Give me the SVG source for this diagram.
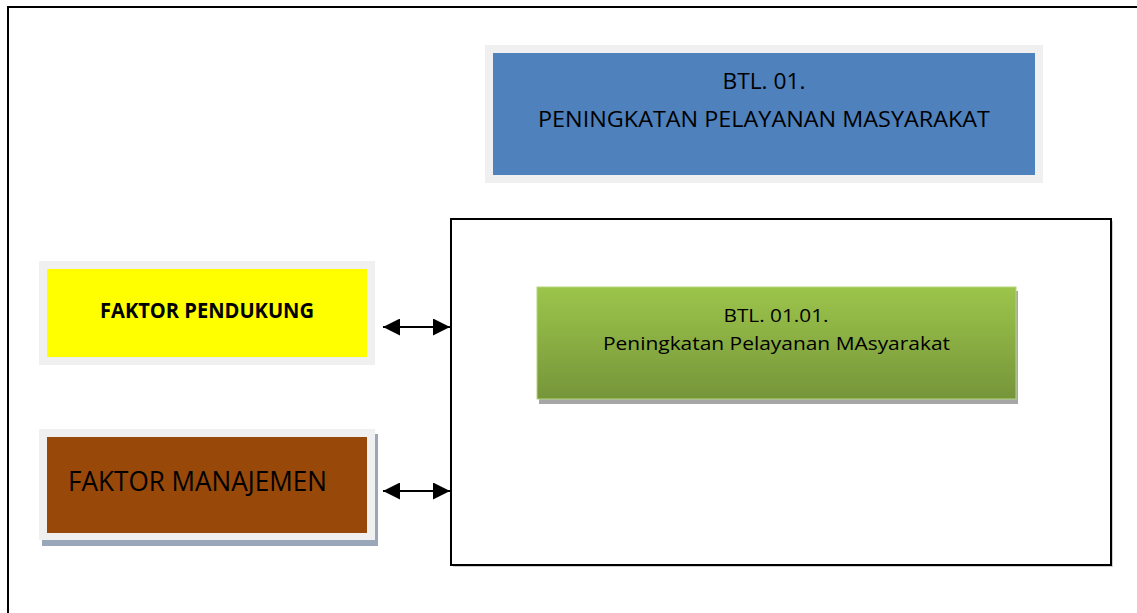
<svg xmlns="http://www.w3.org/2000/svg" width="1137" height="613" viewBox="0 0 1137 613">
  <defs>
    <linearGradient id="gGreen" x1="0" y1="0" x2="0" y2="1">
      <stop offset="0" stop-color="#9CC54B"/>
      <stop offset="1" stop-color="#76953A"/>
    </linearGradient>
    <marker id="ah" markerUnits="userSpaceOnUse" markerWidth="17" markerHeight="17" refX="17" refY="8.5" orient="auto-start-reverse">
      <path d="M0,0 L17,8.5 L0,17 z" fill="#000"/>
    </marker>
  </defs>
  <style>
    .frame { fill: none; stroke: #000; stroke-width: 2; }
    .halo { fill: #F0F0F0; }
    .t { font-family: "Open Sans", "Liberation Sans", sans-serif; fill: #000; text-anchor: middle; }
    .conn { stroke: #000; stroke-width: 2; fill: none; }
  </style>
  <rect width="1137" height="613" fill="#fff"/>
  <rect class="frame" x="8" y="7" width="1140" height="620"/>

  <g id="btl01">
    <rect class="halo" x="485" y="45" width="558" height="138"/>
    <rect x="493" y="53" width="542" height="122" fill="#4F81BD"/>
    <text class="t" x="764" y="89" font-size="22.5" textLength="83" lengthAdjust="spacingAndGlyphs">BTL. 01.</text>
    <text class="t" x="764" y="127" font-size="22.5" textLength="452" lengthAdjust="spacingAndGlyphs">PENINGKATAN PELAYANAN MASYARAKAT</text>
  </g>

  <g id="container">
    <rect x="453" y="221" width="660" height="346" fill="#D0D0D0"/>
    <rect x="451" y="219" width="660" height="346" fill="#fff" stroke="#000" stroke-width="2"/>
  </g>

  <g id="btl0101">
    <rect x="539" y="291" width="479" height="113" fill="#A6A6A6"/>
    <rect x="537" y="287" width="479" height="112" fill="url(#gGreen)" stroke="#B5D57A" stroke-width="1"/>
    <text class="t" x="776" y="322" font-size="18" textLength="105" lengthAdjust="spacingAndGlyphs">BTL. 01.01.</text>
    <text class="t" x="776.5" y="350" font-size="18" textLength="347" lengthAdjust="spacingAndGlyphs">Peningkatan Pelayanan MAsyarakat</text>
  </g>

  <g id="faktor-pendukung">
    <rect class="halo" x="39" y="261" width="336" height="104"/>
    <rect x="47" y="269" width="320" height="88" fill="#FFFF00"/>
    <text class="t" x="207" y="318" font-size="21" font-weight="bold" textLength="214" lengthAdjust="spacingAndGlyphs">FAKTOR PENDUKUNG</text>
  </g>

  <g id="faktor-manajemen">
    <rect x="42" y="434" width="336" height="112" fill="#98A8B8"/>
    <rect class="halo" x="39" y="429" width="336" height="111"/>
    <rect x="47" y="437" width="320" height="96" fill="#984808"/>
    <text class="t" x="197.5" y="491" font-size="26.5" textLength="259" lengthAdjust="spacingAndGlyphs">FAKTOR MANAJEMEN</text>
  </g>

  <g id="connectors">
    <line class="conn" x1="383" y1="327" x2="450" y2="327" marker-start="url(#ah)" marker-end="url(#ah)"/>
    <line class="conn" x1="383" y1="491" x2="450" y2="491" marker-start="url(#ah)" marker-end="url(#ah)"/>
  </g>
</svg>
